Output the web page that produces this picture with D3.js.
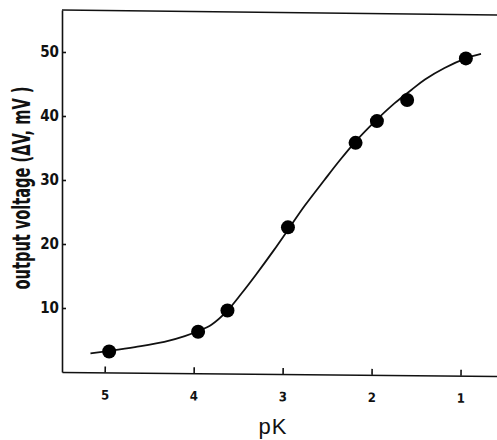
<!DOCTYPE html>
<html>
<head>
<meta charset="utf-8">
<script src="https://cdn.jsdelivr.net/npm/d3@7"></script>
<style>
  body { margin: 0; background: #fff; }
  svg { display: block; }
</style>
</head>
<body>
<script>

// measured points (pK, output voltage in mV)
const pointPK = [4.95, 3.95, 3.62, 2.94, 2.18, 1.94, 1.60, 0.94];
const pointMV = [3.2, 6.3, 9.6, 22.6, 35.8, 39.2, 42.5, 49.0];

// fitted curve
const curvePK = [5.16, 4.95, 4.66, 4.33, 4.10, 3.95, 3.80, 3.62, 3.46, 3.30, 3.10, 2.94,
                 2.75, 2.53, 2.35, 2.18, 1.95, 1.74, 1.55, 1.40, 1.18, 0.94, 0.77];
const curveMV = [2.9, 3.3, 3.9, 4.7, 5.6, 6.4, 7.4, 9.6, 12.3, 15.2, 19.0, 22.2,
                 26.0, 30.0, 33.2, 36.0, 39.3, 42.0, 44.1, 45.7, 47.5, 49.0, 49.7];

// tick labels
const xTicks = [5, 4, 3, 2, 1];
const yTicks = [10, 20, 30, 40, 50];

const width = 497;
const height = 440;
const plot = {left: 62, right: 497, top: 10, bottom: 372};

const svg = d3.select("body").append("svg")
    .attr("width", width)
    .attr("height", height);

// scales, pK runs backwards
const xScale = d3.scaleLinear()
    .domain([5.48, 0.59])
    .range([plot.left, plot.right]);
const yScale = d3.scaleLinear()
    .domain([0, 56.56])
    .range([plot.bottom, plot.top]);

const narrow = "'Liberation Sans Narrow', 'DejaVu Sans Condensed', 'Arial Narrow', sans-serif";

// top border, slightly tilted like the scan
svg.append("line")
    .attr("x1", plot.left).attr("y1", plot.top)
    .attr("x2", plot.right).attr("y2", plot.top + 5)
    .attr("stroke", "#111")
    .attr("stroke-width", 1.6);

// x axis
const xAxis = svg.append("g")
    .attr("transform", "translate(0," + plot.bottom + ") rotate(0.53," + plot.left + ",0)")
    .call(d3.axisBottom(xScale)
      .tickValues(xTicks)
      .tickFormat(d3.format("d"))
      .tickSizeInner(-6)
      .tickSizeOuter(0)
      .tickPadding(18));

// y axis
const yAxis = svg.append("g")
    .attr("transform", "translate(" + plot.left + ",0)")
    .call(d3.axisLeft(yScale)
      .tickValues(yTicks)
      .tickFormat(d3.format("d"))
      .tickSizeInner(-4)
      .tickSizeOuter(0)
      .tickPadding(3));

svg.selectAll(".domain, .tick line")
    .attr("stroke", "#111")
    .attr("stroke-width", 1.6);

xAxis.selectAll("text")
    .style("font-family", narrow)
    .style("font-weight", "bold")
    .style("font-size", "13px")
    .attr("fill", "#111");

yAxis.selectAll("text")
    .style("font-family", narrow)
    .style("font-weight", "bold")
    .style("font-size", "15px")
    .attr("fill", "#111");

// fitted curve
const line = d3.line()
    .x(d => xScale(d[0]))
    .y(d => yScale(d[1]))
    .curve(d3.curveCatmullRom);

svg.append("path")
    .datum(curvePK.map((p, i) => [p, curveMV[i]]))
    .attr("d", line)
    .attr("fill", "none")
    .attr("stroke", "#111")
    .attr("stroke-width", 1.8);

// data points
svg.selectAll(".dot")
    .data(pointPK.map((p, i) => [p, pointMV[i]]))
    .enter()
    .append("circle")
    .attr("class", "dot")
    .attr("cx", d => xScale(d[0]))
    .attr("cy", d => yScale(d[1]))
    .attr("r", 7)
    .attr("fill", "#000");

// label for y-axis, squeezed along its length like the condensed original
const yLabel = svg.append("text")
    .attr("text-anchor", "middle")
    .style("font-family", narrow)
    .style("font-weight", "bold")
    .style("font-size", "25px")
    .attr("fill", "#111")
    .text("output voltage (\u0394V, mV )");

const natural = yLabel.node().getComputedTextLength() || 203;
yLabel.attr("transform", "translate(30,188) rotate(-90) scale(" + (203 / natural) + ",1)");

// label for x-axis
svg.append("text")
    .attr("x", 273)
    .attr("y", 434)
    .attr("text-anchor", "middle")
    .style("font-family", "'Liberation Sans', Arial, sans-serif")
    .style("font-size", "22px")
    .style("letter-spacing", "1px")
    .attr("fill", "#111")
    .text("pK");

</script>
</body>
</html>
